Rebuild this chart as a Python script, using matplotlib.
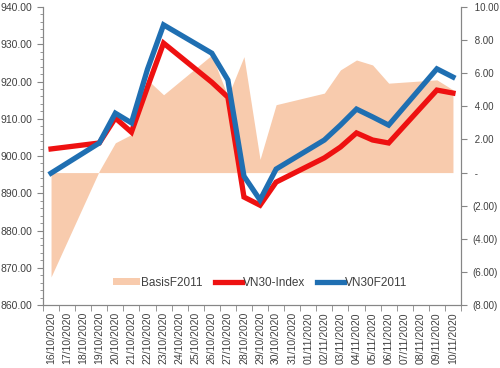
import matplotlib
matplotlib.use("Agg")
import matplotlib.pyplot as plt
from matplotlib.ticker import FuncFormatter, MultipleLocator
from matplotlib.patches import Patch

plt.rcParams["font.family"] = ["Liberation Sans", "DejaVu Sans"]

# calendar labels on the x axis
all_dates = ["16/10/2020", "17/10/2020", "18/10/2020", "19/10/2020", "20/10/2020",
             "21/10/2020", "22/10/2020", "23/10/2020", "24/10/2020", "25/10/2020",
             "26/10/2020", "27/10/2020", "28/10/2020", "29/10/2020", "30/10/2020",
             "31/10/2020", "01/11/2020", "02/11/2020", "03/11/2020", "04/11/2020",
             "05/11/2020", "06/11/2020", "07/11/2020", "08/11/2020", "09/11/2020",
             "10/11/2020"]

# trading days with data
trade_dates = ["16/10/2020", "19/10/2020", "20/10/2020", "21/10/2020", "22/10/2020",
               "23/10/2020", "26/10/2020", "27/10/2020", "28/10/2020", "29/10/2020",
               "30/10/2020", "02/11/2020", "03/11/2020", "04/11/2020", "05/11/2020",
               "06/11/2020", "09/11/2020", "10/11/2020"]

vn30_index = [901.9, 903.5, 910.2, 906.4, 918.5, 930.3, 919.8, 915.8, 889.0, 886.8,
              893.0, 899.5, 902.4, 906.2, 904.3, 903.5, 917.7, 916.9]
vn30f2011 = [895.4, 903.5, 911.5, 908.9, 923.3, 935.2, 927.6, 920.4, 894.6, 888.2,
             896.5, 904.3, 908.3, 912.6, 910.5, 908.3, 923.4, 921.2]
basis = [-6.3, 0.1, 1.8, 2.3, 5.6, 4.7, 7.1, 4.6, 7.0, 0.8,
         4.1, 4.8, 6.2, 6.8, 6.5, 5.4, 5.6, 5.0]

x = [all_dates.index(d) for d in trade_dates]

red = "#EE1111"
blue = "#1F6FB2"
salmon = "#F8CBAD"
grey = "#868686"
txt = "#404040"

fig = plt.figure(figsize=(5, 3.68), dpi=100)
ax = fig.add_axes([0.086, 0.171, 0.836, 0.81])
ax2 = ax.twinx()

# basis area on secondary axis, behind the lines
ax2.fill_between(x, basis, 0, color=salmon, linewidth=0)
ax.set_zorder(ax2.get_zorder() + 1)
ax.patch.set_visible(False)

ax.plot(x, vn30_index, color=red, lw=3.8, solid_joinstyle="miter", zorder=3)
ax.plot(x, vn30f2011, color=blue, lw=3.8, solid_joinstyle="miter", zorder=4)

ax.set_xlim(-0.5, len(all_dates) - 0.5)
ax.set_ylim(860, 940)
ax2.set_ylim(-8, 10)

ax.set_xticks(range(len(all_dates)))
ax.set_xticklabels(all_dates, rotation=90, fontsize=7.5, color=txt)
ax.set_xticks([i - 0.5 for i in range(len(all_dates) + 1)], minor=True)
ax.tick_params(axis="x", which="major", length=0, pad=5)
ax.tick_params(axis="x", which="minor", length=4, color=grey)

ax.yaxis.set_major_locator(MultipleLocator(10))
ax.yaxis.set_minor_locator(MultipleLocator(2))
ax.yaxis.set_major_formatter(FuncFormatter(lambda v, p: f"{v:.2f}"))
ax.tick_params(axis="y", which="major", labelsize=7.5, labelcolor=txt, color=grey, length=4)
ax.tick_params(axis="y", which="minor", color=grey, length=2)


def right_fmt(v, p):
    if abs(v) < 1e-9:
        return " -"
    if v < 0:
        return f"({-v:.2f})"
    return f" {v:.2f}"


ax2.yaxis.set_major_locator(MultipleLocator(2))
ax2.yaxis.set_major_formatter(FuncFormatter(right_fmt))
ax2.tick_params(axis="y", labelsize=7, labelcolor=txt, color=grey, length=4, pad=4)

for a in (ax, ax2):
    a.spines["top"].set_visible(False)
    a.spines["left"].set_color(grey)
    a.spines["right"].set_color(grey)
    a.spines["bottom"].set_color(grey)

handles = [Patch(facecolor=salmon, edgecolor="none"),
           plt.Line2D([], [], color=red, lw=3.8),
           plt.Line2D([], [], color=blue, lw=3.8)]
ax.legend(handles, ["BasisF2011", "VN30-Index", "VN30F2011"], loc="center",
          bbox_to_anchor=(0.52, 0.075), ncol=3, frameon=False, fontsize=8.5,
          handlelength=2.3, handleheight=0.5, handletextpad=0.1, columnspacing=1.0,
          labelcolor=txt)

fig.savefig("out.png", dpi=100)
